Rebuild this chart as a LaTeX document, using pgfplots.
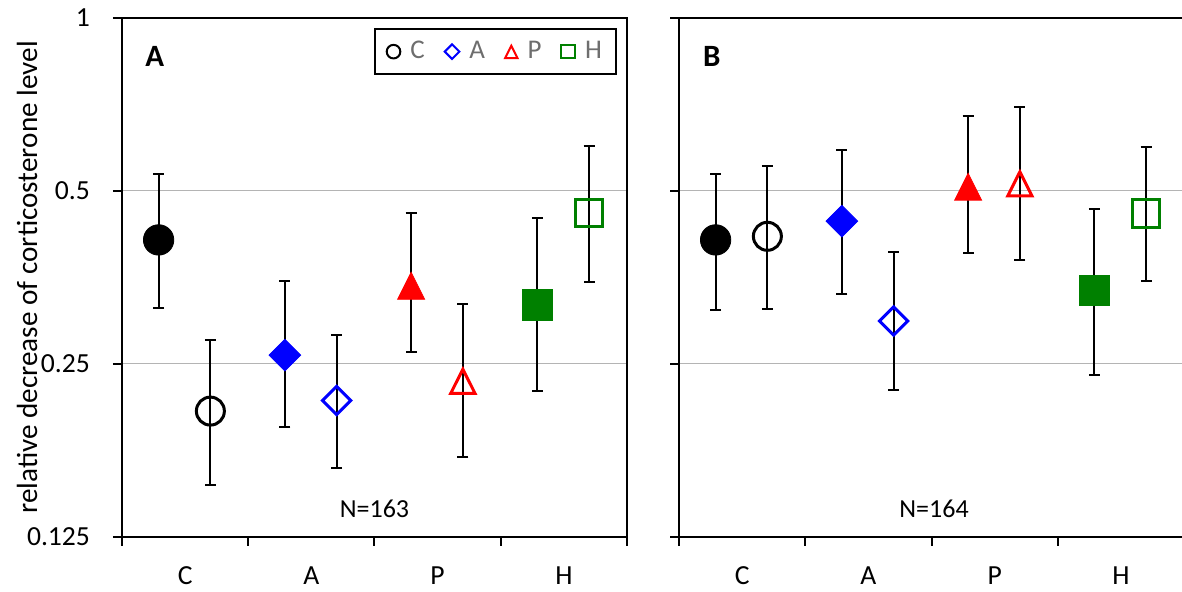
\documentclass[border=0pt]{standalone}
\usepackage{pgfplots}
\pgfplotsset{compat=1.18}
\usepackage{pgfplotstable}
\usepackage{fontspec}
\setmainfont{Carlito}
\definecolor{mblue}{RGB}{0,0,255}
\definecolor{mred}{RGB}{255,0,0}
\definecolor{mgreen}{RGB}{0,128,0}
\definecolor{gridgray}{RGB}{180,180,180}
\definecolor{leggray}{RGB}{110,110,110}

% panel A: x, y, error plus, error minus
\pgfplotstableread{
x y ep em
-0.21 0.411 0.124 0.098
0.20 0.207 0.068 0.053
0.79 0.259 0.090 0.065
1.20 0.216 0.065 0.051
1.79 0.343 0.115 0.081
2.20 0.234 0.084 0.062
2.79 0.317 0.132 0.093
3.20 0.458 0.141 0.111
}\tabA
% panel B
\pgfplotstableread{
x y ep em
-0.21 0.411 0.124 0.101
0.20 0.417 0.136 0.105
0.79 0.443 0.146 0.112
1.20 0.297 0.095 0.072
1.79 0.510 0.165 0.120
2.20 0.516 0.184 0.137
2.79 0.336 0.129 0.097
3.20 0.457 0.139 0.108
}\tabB

\pgfplotsset{
  myebar/.style={forget plot, only marks, mark=text, text mark={},
    error bars/y dir=both, error bars/y explicit,
    error bars/error bar style={black, line width=1pt},
    error bars/error mark options={black, rotate=90, mark size=2.75pt, line width=1pt}},
  mycf/.style={forget plot, only marks, mark=*, black, mark size=7.6pt},
  myco/.style={forget plot, only marks, mark=o, black, mark size=7.0pt, mark options={line width=1.5pt}},
  myaf/.style={forget plot, only marks, mark=square*, mblue, mark size=5.6pt, mark options={rotate=45}},
  myao/.style={forget plot, only marks, mark=square, mblue, mark size=5.0pt, mark options={rotate=45, line width=1.5pt}},
  mypf/.style={forget plot, only marks, mark=triangle*, mred, mark size=7.8pt, mark options={yshift=-2.6pt, yscale=1.15}},
  mypo/.style={forget plot, only marks, mark=triangle, mred, mark size=7.0pt, mark options={yshift=-2.4pt, yscale=1.15, line width=1.5pt}},
  myhf/.style={forget plot, only marks, mark=square*, mgreen, mark size=7.6pt},
  myho/.style={forget plot, only marks, mark=square, mgreen, mark size=6.8pt, mark options={line width=1.5pt}},
}

\newcommand\drawpoints[1]{%
  \addplot[myebar] table[x=x, y=y, y error plus=ep, y error minus=em]{#1};
  \addplot[mycf, restrict expr to domain={\coordindex}{0:0}] table[x=x, y=y]{#1};
  \addplot[myco, restrict expr to domain={\coordindex}{1:1}] table[x=x, y=y]{#1};
  \addplot[myaf, restrict expr to domain={\coordindex}{2:2}] table[x=x, y=y]{#1};
  \addplot[myao, restrict expr to domain={\coordindex}{3:3}] table[x=x, y=y]{#1};
  \addplot[mypf, restrict expr to domain={\coordindex}{4:4}] table[x=x, y=y]{#1};
  \addplot[mypo, restrict expr to domain={\coordindex}{5:5}] table[x=x, y=y]{#1};
  \addplot[myhf, restrict expr to domain={\coordindex}{6:6}] table[x=x, y=y]{#1};
  \addplot[myho, restrict expr to domain={\coordindex}{7:7}] table[x=x, y=y]{#1};
}

\begin{document}
\begin{tikzpicture}
\begin{axis}[name=A,
  scale only axis, width=252.5pt, height=259.5pt,
  ymode=log, log basis y=2, ymin=0.125, ymax=1,
  ytick={0.125,0.25,0.5,1},
  yticklabels={0.125,0.25,0.5,1},
  xmin=-0.5, xmax=3.5,
  xtick={-0.5,0.5,1.5,2.5,3.5}, xticklabels={},
  extra x ticks={0,1,2,3}, extra x tick labels={C,A,P,H},
  extra x tick style={major tick length=0pt, tick label style={yshift=-11.5pt}},
  tick align=outside, xtick pos=bottom, ytick pos=left,
  major tick length=4.5pt,
  tick style={black, line width=1pt},
  axis line style={line width=1pt},
  ymajorgrids, grid style={gridgray, line width=0.5pt},
  tick label style={font=\fontsize{13.8}{16}\selectfont},
  yticklabel style={xshift=-8pt},
  clip=false,
  ylabel={relative decrease of corticosterone level},
  ylabel style={at={(axis description cs:-0.188,0.5)}, anchor=center, font=\fontsize{14.6}{17}\selectfont},
  legend columns=4,
  legend image code/.code={\draw[only marks,#1] plot coordinates {(0cm,0cm)};},
  legend style={at={(0.98,0.98)}, anchor=north east, draw=black, line width=1pt,
    font=\fontsize{13.5}{16}\selectfont, text=leggray,
    inner xsep=6pt, inner ysep=4pt,
    nodes={inner xsep=1pt},
    /tikz/every odd column/.append style={column sep=4pt},
    /tikz/every even column/.append style={column sep=9pt}},
]
\addlegendimage{mark=o, black, mark size=3.4pt, mark options={line width=1pt}}
\addlegendentry{C}
\addlegendimage{mark=square, mblue, mark size=2.6pt, mark options={rotate=45, line width=1pt}}
\addlegendentry{A}
\addlegendimage{mark=triangle, mred, mark size=3.6pt, mark options={yshift=-1.2pt, yscale=1.15, line width=1pt}}
\addlegendentry{P}
\addlegendimage{mark=square, mgreen, mark size=3.4pt, mark options={line width=1pt}}
\addlegendentry{H}
\drawpoints{\tabA}
\node[font=\bfseries\fontsize{15.5}{18}\selectfont] at (rel axis cs:0.065,0.925) {A};
\node[font=\fontsize{13}{16}\selectfont] at (rel axis cs:0.5,0.054) {N=163};
\end{axis}
\begin{axis}[name=B, at={(278.5pt,0pt)},
  scale only axis, width=252.5pt, height=259.5pt,
  ymode=log, log basis y=2, ymin=0.125, ymax=1,
  ytick={0.125,0.25,0.5,1},
  yticklabels={},
  xmin=-0.5, xmax=3.5,
  xtick={-0.5,0.5,1.5,2.5,3.5}, xticklabels={},
  extra x ticks={0,1,2,3}, extra x tick labels={C,A,P,H},
  extra x tick style={major tick length=0pt, tick label style={yshift=-11.5pt}},
  tick align=outside, xtick pos=bottom, ytick pos=left,
  major tick length=4.5pt,
  tick style={black, line width=1pt},
  axis line style={line width=1pt},
  ymajorgrids, grid style={gridgray, line width=0.5pt},
  tick label style={font=\fontsize{13.8}{16}\selectfont},
  clip=false,
]
\drawpoints{\tabB}
\node[font=\bfseries\fontsize{15.5}{18}\selectfont] at (rel axis cs:0.065,0.925) {B};
\node[font=\fontsize{13}{16}\selectfont] at (rel axis cs:0.505,0.054) {N=164};
\end{axis}
\pgfresetboundingbox
\useasboundingbox (-61pt,-27.5pt) rectangle (530pt,268.5pt);
\end{tikzpicture}
\end{document}
